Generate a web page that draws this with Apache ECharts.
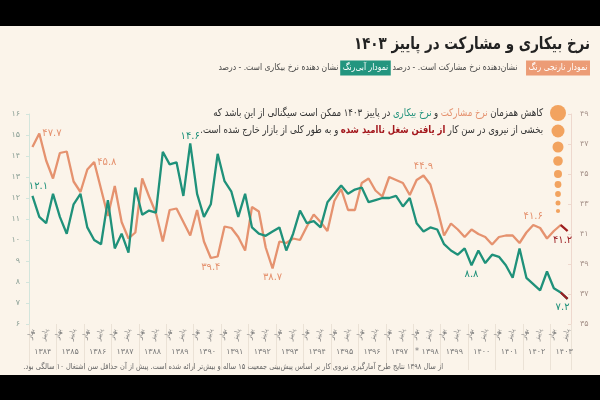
<!DOCTYPE html>
<html>
<head>
<meta charset="utf-8">
<script src="https://cdn.jsdelivr.net/npm/echarts@6/dist/echarts.min.js"></script>
<style>
html, body { margin: 0; padding: 0; background: #000; }
#chart { width: 600px; height: 400px; }
</style>
</head>
<body>
<div id="chart" dir="rtl"></div>
<script>
// سال‌ها و فصل‌ها
const years = ['۱۳۸۴', '۱۳۸۵', '۱۳۸۶', '۱۳۸۷', '۱۳۸۸', '۱۳۸۹', '۱۳۹۰', '۱۳۹۱', '۱۳۹۲', '۱۳۹۳',
	'۱۳۹۴', '۱۳۹۵', '۱۳۹۶', '۱۳۹۷', '۱۳۹۸ *', '۱۳۹۹', '۱۴۰۰', '۱۴۰۱', '۱۴۰۲', '۱۴۰۳'];
const seasons = ['بهار', 'تابستان', 'پاییز', 'زمستان'];

// نرخ بیکاری (درصد) - محور چپ
const unemployment = [
	12.1, 11.1, 10.8, 12.2, 11.1, 10.3, 11.7, 12.2, 10.6, 10.0,
	9.8, 11.9, 9.6, 10.3, 9.4, 12.5, 11.2, 11.4, 11.3, 14.2,
	13.6, 13.7, 12.1, 14.6, 12.2, 11.1, 11.7, 14.1, 12.8, 12.3,
	11.1, 12.2, 10.6, 10.3, 10.2, 10.4, 10.6, 9.5, 10.3, 11.4,
	10.8, 10.9, 10.6, 11.8, 12.2, 12.6, 12.2, 12.4, 12.5, 11.8,
	11.9, 12.0, 12.0, 12.1, 11.6, 12.0, 10.8, 10.4, 10.6, 10.5,
	9.8, 9.5, 9.3, 9.6, 8.8, 9.5, 8.9, 9.3, 9.2, 8.8,
	8.2, 9.6, 8.2, 7.9, 7.6, 8.5, 7.7, 7.5, 7.2
];

// نرخ مشارکت (درصد) - محور راست
const participation = [
	46.8, 47.7, 45.9, 44.7, 46.4, 46.5, 44.5, 43.8, 45.3, 45.8,
	44.0, 42.2, 44.2, 41.8, 40.7, 41.1, 44.7, 43.5, 42.4, 40.5,
	42.6, 42.7, 41.8, 40.9, 42.6, 40.5, 39.4, 39.5, 41.5, 41.4,
	40.8, 39.9, 42.8, 42.5, 40.1, 38.7, 40.5, 40.4, 40.7, 40.6,
	41.5, 42.3, 41.8, 41.2, 43.2, 44.0, 42.6, 42.6, 44.4, 44.7,
	43.9, 43.5, 44.8, 44.6, 44.4, 43.6, 44.6, 44.9, 44.3, 42.7,
	40.9, 41.7, 41.3, 40.8, 41.3, 41.0, 40.8, 40.3, 40.8, 40.9,
	40.9, 40.4, 41.1, 41.6, 41.4, 40.7, 41.2, 41.6, 41.2
];

const leftTicks = [6, 16, 1];
const rightTicks = [35, 49, 2];

// نقاط برچسب‌دار
const unempLabelIdx = [0, 23, 64, 78];
const partLabelIdx = [1, 9, 26, 35, 57, 73, 78];

const TEAL = '#1f917a';
const ORANGE = '#e5926f';
const DARKRED = '#9b1d22';
const FONT = 'DejaVu Sans';

function fa(s) {
	return String(s).replace(/\d/g, d => '۰۱۲۳۴۵۶۷۸۹'[d]);
}

const categories = [];
years.forEach(y => seasons.forEach(s => categories.push(s + ' ' + y)));
categories.length = unemployment.length;

const labelPlace = {
	u0: { position: 'top', offset: [6, 0] },
	u23: { position: 'top', distance: 2 },
	u64: { position: 'bottom' },
	u78: { position: 'bottom', offset: [-5, 0] },
	p1: { position: 'right', distance: 3 },
	p9: { position: 'right', distance: 3 },
	p26: { position: 'bottom' },
	p35: { position: 'bottom' },
	p57: { position: 'top' },
	p73: { position: 'top' },
	p78: { position: 'bottom', offset: [-5, 0], color: DARKRED }
};

function buildData(values, idxList, key, color) {
	return values.map((v, i) => {
		if (idxList.indexOf(i) < 0) return v;
		const p = labelPlace[key + i];
		return {
			value: v,
			label: Object.assign({
				show: true,
				formatter: fa(v.toFixed(1)),
				color: color,
				fontSize: 10,
				fontFamily: FONT,
				distance: 4
			}, p)
		};
	});
}

// متن‌ها با فشرده‌سازی افقی تا عرضشان به تصویر نزدیک شود
function rtlText(x, y, sx, text, size, color, weight, rich) {
	return {
		type: 'text', x: x, y: y, scaleX: sx, z: 20,
		style: {
			text: text, fontSize: size, fontFamily: FONT, fontWeight: weight || 'normal',
			fill: color, align: 'right', verticalAlign: 'middle', rich: rich
		}
	};
}

const chart = echarts.init(document.getElementById('chart'));

const dots = [[113, 8], [131, 6.5], [147, 5.5], [161, 4.8], [174, 4], [184.5, 3.4], [194, 2.9], [203, 2.5], [211, 2.1]];

const richSub = {
	n: { fontSize: 9, fill: '#444', fontFamily: FONT, padding: [0, 2] },
	g: { fontSize: 9, width: 8 },
	tb: { fontSize: 9, fill: '#fff', backgroundColor: '#23957f', padding: [3, 3], fontFamily: FONT },
	ob: { fontSize: 9, fill: '#fff', backgroundColor: '#ec9c76', padding: [3, 3], fontFamily: FONT }
};
const richNote = {
	n: { fontSize: 10.5, fill: '#333', fontFamily: FONT },
	u: { fontSize: 10.5, fill: '#333', fontFamily: FONT, padding: [0, 3] },
	t: { fontSize: 10.5, fill: TEAL, fontFamily: FONT, padding: [0, 3] },
	o: { fontSize: 10.5, fill: ORANGE, fontFamily: FONT, padding: [0, 3] },
	r: { fontSize: 10.5, fill: '#a3161c', fontWeight: 'bold', fontFamily: FONT, padding: [0, 3] }
};

const option = {
	backgroundColor: '#000',
	animation: false,
	textStyle: { fontFamily: FONT },
	graphic: [
		{ type: 'rect', z: -100, shape: { x: 0, y: 26, width: 600, height: 349 }, style: { fill: '#fbf4ea' } },
		rtlText(590, 45, 0.79, 'نرخ بیکاری و مشارکت در پاییز ۱۴۰۳', 17, '#222', 'bold'),
		rtlText(590, 68, 0.85,
			'{n|نشان دهنده نرخ بیکاری است. - درصد}{tb|نمودار آبی‌رنگ}{n|نشان‌دهنده نرخ مشارکت است. - درصد}{g| }{ob|نمودار نارنجی رنگ}',
			9, '#444', 'normal', richSub),
		rtlText(543, 113, 0.82,
			'{n|سیگنالی از این باشد که}{u|ممکن است}{n|در پاییز ۱۴۰۳}{t|نرخ بیکاری}{n|و}{o|نرخ مشارکت}{n|کاهش همزمان}',
			10.5, '#333', 'normal', richNote),
		rtlText(543, 130, 0.81,
			'{n|و به طور کلی از بازار خارج شده است.}{r|از یافتن شغل ناامید شده}{n|بخشی از نیروی در سن کار}',
			10.5, '#333', 'normal', richNote),
		rtlText(443, 367, 0.83,
			'از سال ۱۳۹۸ نتایج طرح آمارگیری نیروی کار بر اساس پیش‌بینی جمعیت ۱۵ ساله و بیش‌تر ارائه شده است. پیش از آن حداقل سن اشتغال ۱۰ سالگی بود.',
			8, '#666')
	].concat(dots.map(d => ({
		type: 'circle', z: 10, shape: { cx: 558, cy: d[0], r: d[1] }, style: { fill: '#f2a35f' }
	}))),
	grid: { left: 29, right: 29, top: 114, bottom: 76 },
	xAxis: [
		{
			type: 'category',
			data: categories,
			boundaryGap: true,
			axisLine: { show: false },
			axisTick: {
				show: true,
				interval: (i) => i % 4 === 0,
				length: 46,
				lineStyle: { color: '#ebe2d6' }
			},
			axisLabel: {
				interval: (i) => i % 4 === 0 || i % 4 === 2,
				formatter: (v) => v.split(' ')[0],
				rotate: 75,
				fontSize: 7,
				margin: 5,
				color: '#7c7c7c',
				fontFamily: FONT
			}
		},
		{
			type: 'value',
			min: 0,
			max: unemployment.length,
			interval: 2,
			position: 'bottom',
			offset: 22,
			axisLine: { show: false },
			axisTick: { show: false },
			splitLine: { show: false },
			axisLabel: {
				formatter: (v) => (v % 4 === 2 ? years[(v - 2) / 4] : ''),
				fontSize: 8,
				color: '#7a7a7a',
				margin: 2,
				fontFamily: FONT
			}
		}
	],
	yAxis: [
		{
			type: 'value',
			position: 'left',
			min: leftTicks[0], max: leftTicks[1], interval: leftTicks[2],
			axisLine: { show: true, lineStyle: { color: '#d3e5dc' } },
			axisTick: { show: true, length: 3, lineStyle: { color: '#d3e5dc' } },
			splitLine: { show: false },
			axisLabel: { formatter: fa, fontSize: 8, color: '#8a9f95', margin: 9, fontFamily: FONT }
		},
		{
			type: 'value',
			position: 'right',
			min: rightTicks[0], max: rightTicks[1], interval: rightTicks[2],
			axisLine: { show: true, lineStyle: { color: '#eed8ce' } },
			axisTick: { show: true, inside: true, length: 3, lineStyle: { color: '#eed8ce' } },
			splitLine: { show: false },
			axisLabel: { formatter: fa, fontSize: 8, color: '#a6928a', margin: 9, fontFamily: FONT }
		}
	],
	series: [
		{
			name: 'نرخ بیکاری',
			type: 'line',
			yAxisIndex: 0,
			data: buildData(unemployment, unempLabelIdx, 'u', TEAL),
			symbol: 'circle',
			symbolSize: 0.01,
			lineStyle: { color: TEAL, width: 2.3 },
			itemStyle: { color: TEAL },
			z: 3
		},
		{
			name: 'نرخ مشارکت',
			type: 'line',
			yAxisIndex: 1,
			data: buildData(participation, partLabelIdx, 'p', ORANGE),
			symbol: 'circle',
			symbolSize: 0.01,
			lineStyle: { color: ORANGE, width: 2.3 },
			itemStyle: { color: ORANGE },
			z: 2
		},
		{
			type: 'line',
			yAxisIndex: 0,
			data: unemployment.map((v, i) => (i >= unemployment.length - 2 ? v : null)),
			showSymbol: false,
			lineStyle: { color: DARKRED, width: 2.3 },
			z: 4
		},
		{
			type: 'line',
			yAxisIndex: 1,
			data: participation.map((v, i) => (i >= participation.length - 2 ? v : null)),
			showSymbol: false,
			lineStyle: { color: DARKRED, width: 2.3 },
			z: 4
		}
	]
};

chart.setOption(option);
</script>
</body>
</html>
